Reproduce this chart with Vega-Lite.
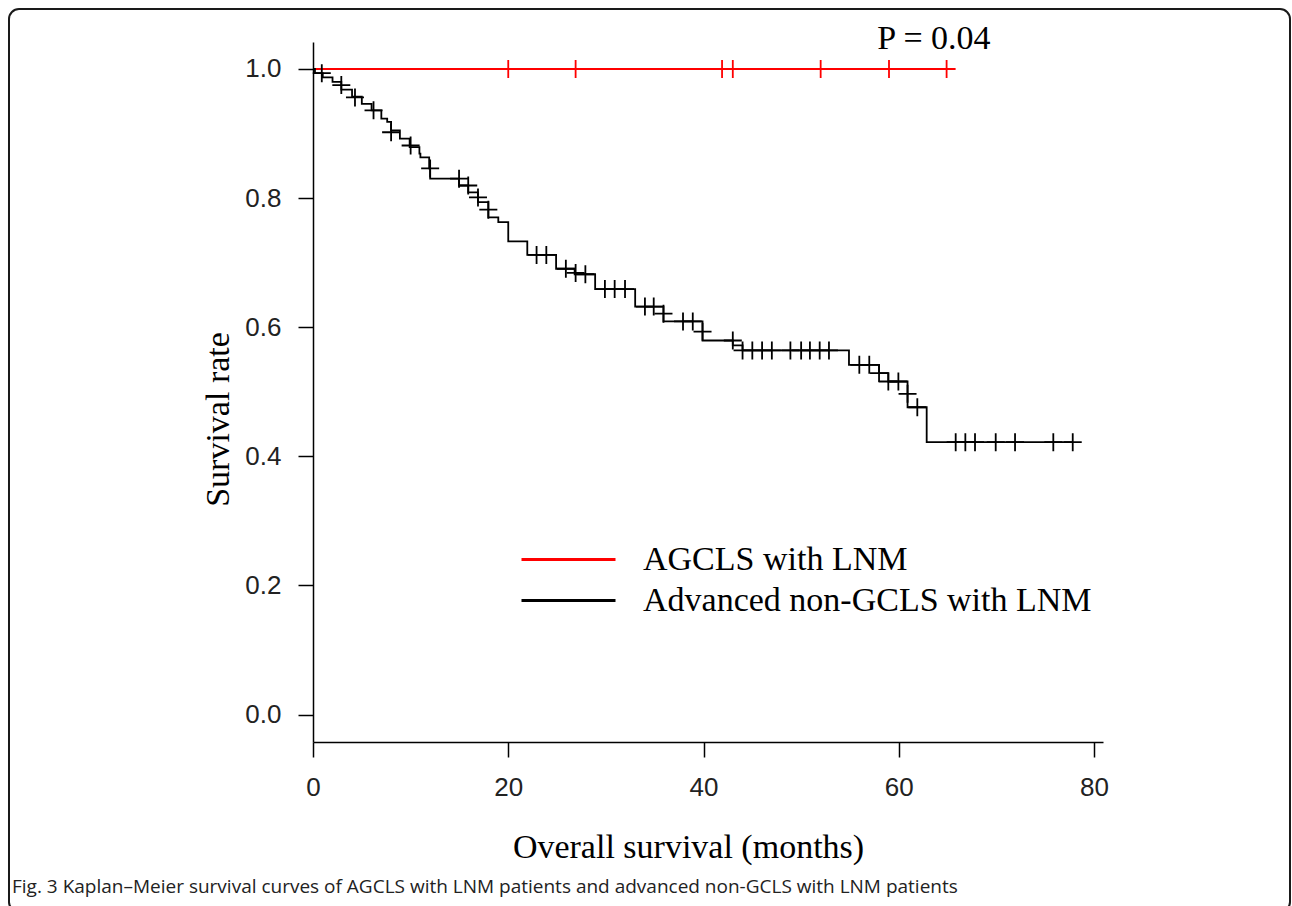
{
  "$schema": "https://vega.github.io/schema/vega-lite/v6.json",
  "width": 1281,
  "height": 903,
  "autosize": {"type": "none"},
  "padding": {"left": 9, "top": 9, "right": 2, "bottom": 0},
  "background": "white",
  "config": {
    "view": {"stroke": "#1a1a1a", "strokeWidth": 2, "cornerRadius": 10, "fill": "white"}
  },
  "title": {
    "text": "Fig. 3 Kaplan–Meier survival curves of AGCLS with LNM patients and advanced non-GCLS with LNM patients",
    "orient": "bottom",
    "anchor": "start",
    "frame": "group",
    "offset": -34,
    "dx": 3,
    "font": "Open Sans",
    "fontSize": 19,
    "fontWeight": "normal",
    "color": "#222222",
    "baseline": "top"
  },
  "datasets": {
    "curve": [
      {"g": "AGCLS with LNM", "t": 0, "s": 1.0},
      {"g": "AGCLS with LNM", "t": 64.9, "s": 1.0},
      {"g": "Advanced non-GCLS with LNM", "t": 0, "s": 1.0},
      {"g": "Advanced non-GCLS with LNM", "t": 0.2, "s": 0.9935},
      {"g": "Advanced non-GCLS with LNM", "t": 1.0, "s": 0.987},
      {"g": "Advanced non-GCLS with LNM", "t": 2.0, "s": 0.980},
      {"g": "Advanced non-GCLS with LNM", "t": 2.9, "s": 0.968},
      {"g": "Advanced non-GCLS with LNM", "t": 4.0, "s": 0.957},
      {"g": "Advanced non-GCLS with LNM", "t": 5.0, "s": 0.946},
      {"g": "Advanced non-GCLS with LNM", "t": 6.0, "s": 0.936},
      {"g": "Advanced non-GCLS with LNM", "t": 7.0, "s": 0.923},
      {"g": "Advanced non-GCLS with LNM", "t": 7.6, "s": 0.918},
      {"g": "Advanced non-GCLS with LNM", "t": 8.0, "s": 0.905},
      {"g": "Advanced non-GCLS with LNM", "t": 8.9, "s": 0.892},
      {"g": "Advanced non-GCLS with LNM", "t": 9.9, "s": 0.879},
      {"g": "Advanced non-GCLS with LNM", "t": 10.9, "s": 0.869},
      {"g": "Advanced non-GCLS with LNM", "t": 11.0, "s": 0.863},
      {"g": "Advanced non-GCLS with LNM", "t": 11.9, "s": 0.846},
      {"g": "Advanced non-GCLS with LNM", "t": 12.0, "s": 0.830},
      {"g": "Advanced non-GCLS with LNM", "t": 14.96, "s": 0.8195},
      {"g": "Advanced non-GCLS with LNM", "t": 15.9, "s": 0.809},
      {"g": "Advanced non-GCLS with LNM", "t": 16.9, "s": 0.7937},
      {"g": "Advanced non-GCLS with LNM", "t": 17.96, "s": 0.770},
      {"g": "Advanced non-GCLS with LNM", "t": 18.98, "s": 0.7627},
      {"g": "Advanced non-GCLS with LNM", "t": 20.0, "s": 0.7328},
      {"g": "Advanced non-GCLS with LNM", "t": 21.95, "s": 0.712},
      {"g": "Advanced non-GCLS with LNM", "t": 24.9, "s": 0.6905},
      {"g": "Advanced non-GCLS with LNM", "t": 26.8, "s": 0.682},
      {"g": "Advanced non-GCLS with LNM", "t": 28.9, "s": 0.659},
      {"g": "Advanced non-GCLS with LNM", "t": 33.0, "s": 0.632},
      {"g": "Advanced non-GCLS with LNM", "t": 35.9, "s": 0.609},
      {"g": "Advanced non-GCLS with LNM", "t": 39.9, "s": 0.5794},
      {"g": "Advanced non-GCLS with LNM", "t": 43.0, "s": 0.5717},
      {"g": "Advanced non-GCLS with LNM", "t": 44.0, "s": 0.564},
      {"g": "Advanced non-GCLS with LNM", "t": 54.9, "s": 0.5417},
      {"g": "Advanced non-GCLS with LNM", "t": 57.98, "s": 0.5288},
      {"g": "Advanced non-GCLS with LNM", "t": 58.93, "s": 0.5159},
      {"g": "Advanced non-GCLS with LNM", "t": 60.9, "s": 0.476},
      {"g": "Advanced non-GCLS with LNM", "t": 62.86, "s": 0.4218},
      {"g": "Advanced non-GCLS with LNM", "t": 77.82, "s": 0.4218}
    ],
    "censor": [
      {"g": "AGCLS with LNM", "t": 20.0, "s": 1.0},
      {"g": "AGCLS with LNM", "t": 26.9, "s": 1.0},
      {"g": "AGCLS with LNM", "t": 41.9, "s": 1.0},
      {"g": "AGCLS with LNM", "t": 43.0, "s": 1.0},
      {"g": "AGCLS with LNM", "t": 52.0, "s": 1.0},
      {"g": "AGCLS with LNM", "t": 59.0, "s": 1.0},
      {"g": "AGCLS with LNM", "t": 64.9, "s": 1.0},
      {"g": "Advanced non-GCLS with LNM", "t": 0.9, "s": 0.9935},
      {"g": "Advanced non-GCLS with LNM", "t": 2.9, "s": 0.975},
      {"g": "Advanced non-GCLS with LNM", "t": 4.3, "s": 0.956},
      {"g": "Advanced non-GCLS with LNM", "t": 6.2, "s": 0.936},
      {"g": "Advanced non-GCLS with LNM", "t": 8.0, "s": 0.902},
      {"g": "Advanced non-GCLS with LNM", "t": 10.0, "s": 0.8815},
      {"g": "Advanced non-GCLS with LNM", "t": 12.0, "s": 0.846},
      {"g": "Advanced non-GCLS with LNM", "t": 14.96, "s": 0.83},
      {"g": "Advanced non-GCLS with LNM", "t": 15.9, "s": 0.8195},
      {"g": "Advanced non-GCLS with LNM", "t": 16.9, "s": 0.801},
      {"g": "Advanced non-GCLS with LNM", "t": 17.96, "s": 0.782},
      {"g": "Advanced non-GCLS with LNM", "t": 22.9, "s": 0.712},
      {"g": "Advanced non-GCLS with LNM", "t": 23.9, "s": 0.712},
      {"g": "Advanced non-GCLS with LNM", "t": 25.9, "s": 0.6905},
      {"g": "Advanced non-GCLS with LNM", "t": 26.9, "s": 0.684},
      {"g": "Advanced non-GCLS with LNM", "t": 27.9, "s": 0.682},
      {"g": "Advanced non-GCLS with LNM", "t": 29.9, "s": 0.659},
      {"g": "Advanced non-GCLS with LNM", "t": 30.9, "s": 0.659},
      {"g": "Advanced non-GCLS with LNM", "t": 31.96, "s": 0.659},
      {"g": "Advanced non-GCLS with LNM", "t": 34.0, "s": 0.632},
      {"g": "Advanced non-GCLS with LNM", "t": 34.9, "s": 0.632},
      {"g": "Advanced non-GCLS with LNM", "t": 35.9, "s": 0.621},
      {"g": "Advanced non-GCLS with LNM", "t": 37.9, "s": 0.609},
      {"g": "Advanced non-GCLS with LNM", "t": 38.9, "s": 0.609},
      {"g": "Advanced non-GCLS with LNM", "t": 39.9, "s": 0.593},
      {"g": "Advanced non-GCLS with LNM", "t": 43.0, "s": 0.5794},
      {"g": "Advanced non-GCLS with LNM", "t": 44.0, "s": 0.564},
      {"g": "Advanced non-GCLS with LNM", "t": 45.0, "s": 0.564},
      {"g": "Advanced non-GCLS with LNM", "t": 46.0, "s": 0.564},
      {"g": "Advanced non-GCLS with LNM", "t": 47.0, "s": 0.564},
      {"g": "Advanced non-GCLS with LNM", "t": 48.9, "s": 0.564},
      {"g": "Advanced non-GCLS with LNM", "t": 50.0, "s": 0.564},
      {"g": "Advanced non-GCLS with LNM", "t": 50.9, "s": 0.564},
      {"g": "Advanced non-GCLS with LNM", "t": 51.9, "s": 0.564},
      {"g": "Advanced non-GCLS with LNM", "t": 52.85, "s": 0.564},
      {"g": "Advanced non-GCLS with LNM", "t": 55.96, "s": 0.5417},
      {"g": "Advanced non-GCLS with LNM", "t": 56.98, "s": 0.5417},
      {"g": "Advanced non-GCLS with LNM", "t": 57.98, "s": 0.5288},
      {"g": "Advanced non-GCLS with LNM", "t": 58.93, "s": 0.5159},
      {"g": "Advanced non-GCLS with LNM", "t": 59.96, "s": 0.5159},
      {"g": "Advanced non-GCLS with LNM", "t": 60.9, "s": 0.4968},
      {"g": "Advanced non-GCLS with LNM", "t": 61.9, "s": 0.476},
      {"g": "Advanced non-GCLS with LNM", "t": 65.83, "s": 0.4218},
      {"g": "Advanced non-GCLS with LNM", "t": 66.82, "s": 0.4218},
      {"g": "Advanced non-GCLS with LNM", "t": 67.81, "s": 0.4218},
      {"g": "Advanced non-GCLS with LNM", "t": 69.93, "s": 0.4218},
      {"g": "Advanced non-GCLS with LNM", "t": 71.91, "s": 0.4218},
      {"g": "Advanced non-GCLS with LNM", "t": 75.83, "s": 0.4218},
      {"g": "Advanced non-GCLS with LNM", "t": 77.82, "s": 0.4218}
    ],
    "note": [
      {"t": 63.6, "s": 1.046, "label": "P = 0.04"}
    ]
  },
  "encoding": {
    "x": {
      "field": "t",
      "type": "quantitative",
      "scale": {"domain": [0, 80.92], "range": [304, 1094], "nice": false, "zero": false},
      "axis": {
        "orient": "bottom",
        "offset": -170,
        "values": [0, 20, 40, 60, 80],
        "format": "d",
        "grid": false,
        "labelFlush": false,
        "labelOverlap": false,
        "labelFont": "Liberation Sans",
        "labelFontSize": 26,
        "labelColor": "#222222",
        "labelPadding": 17,
        "tickSize": 15,
        "tickWidth": 1.5,
        "tickColor": "black",
        "domainColor": "black",
        "domainWidth": 1.5,
        "title": "Overall survival (months)",
        "titleFont": "Liberation Serif",
        "titleFontSize": 34,
        "titleFontWeight": "normal",
        "titleColor": "black",
        "titleX": 679,
        "titleY": 88,
        "titleBaseline": "top",
        "titleAlign": "center"
      }
    },
    "y": {
      "field": "s",
      "type": "quantitative",
      "scale": {"domain": [-0.0426, 1.0418], "range": [733, 33], "nice": false, "zero": false},
      "axis": {
        "orient": "left",
        "offset": -304,
        "values": [0, 0.2, 0.4, 0.6, 0.8, 1.0],
        "format": ".1f",
        "grid": false,
        "labelFlush": false,
        "labelOverlap": false,
        "labelFont": "Liberation Sans",
        "labelFontSize": 26,
        "labelColor": "#222222",
        "labelPadding": 17,
        "tickSize": 15,
        "tickWidth": 1.5,
        "tickColor": "black",
        "domainColor": "black",
        "domainWidth": 1.5,
        "title": "Survival rate",
        "titleFont": "Liberation Serif",
        "titleFontSize": 34,
        "titleFontWeight": "normal",
        "titleColor": "black",
        "titleX": -85,
        "titleY": 410,
        "titleAngle": 270,
        "titleBaseline": "alphabetic",
        "titleAlign": "center"
      }
    }
  },
  "layer": [
    {
      "data": {"name": "curve"},
      "mark": {"type": "line", "interpolate": "step-after", "strokeWidth": 1.8},
      "encoding": {
        "color": {
          "field": "g",
          "type": "nominal",
          "scale": {"domain": ["AGCLS with LNM", "Advanced non-GCLS with LNM"], "range": ["#ff0000", "#000000"]},
          "legend": {
            "orient": "none",
            "legendX": 511,
            "legendY": 530,
            "title": null,
            "direction": "vertical",
            "symbolType": "stroke",
            "symbolSize": 8836,
            "symbolStrokeWidth": 3,
            "labelFont": "Liberation Serif",
            "labelFontSize": 34,
            "labelColor": "black",
            "labelLimit": 800,
            "labelOffset": 26,
            "clipHeight": 41,
            "rowPadding": 0,
            "padding": 0
          }
        }
      }
    },
    {
      "data": {"name": "censor"},
      "mark": {"type": "point", "shape": "M-1,0H1M0,-1V1", "size": 324, "filled": false, "strokeWidth": 1.8, "opacity": 1},
      "encoding": {
        "color": {
          "field": "g",
          "type": "nominal",
          "scale": {"domain": ["AGCLS with LNM", "Advanced non-GCLS with LNM"], "range": ["#ff0000", "#000000"]},
          "legend": null
        }
      }
    },
    {
      "data": {"name": "note"},
      "mark": {"type": "text", "font": "Liberation Serif", "fontSize": 34, "align": "center", "baseline": "middle", "color": "black"},
      "encoding": {
        "text": {"field": "label", "type": "nominal"}
      }
    }
  ]
}
